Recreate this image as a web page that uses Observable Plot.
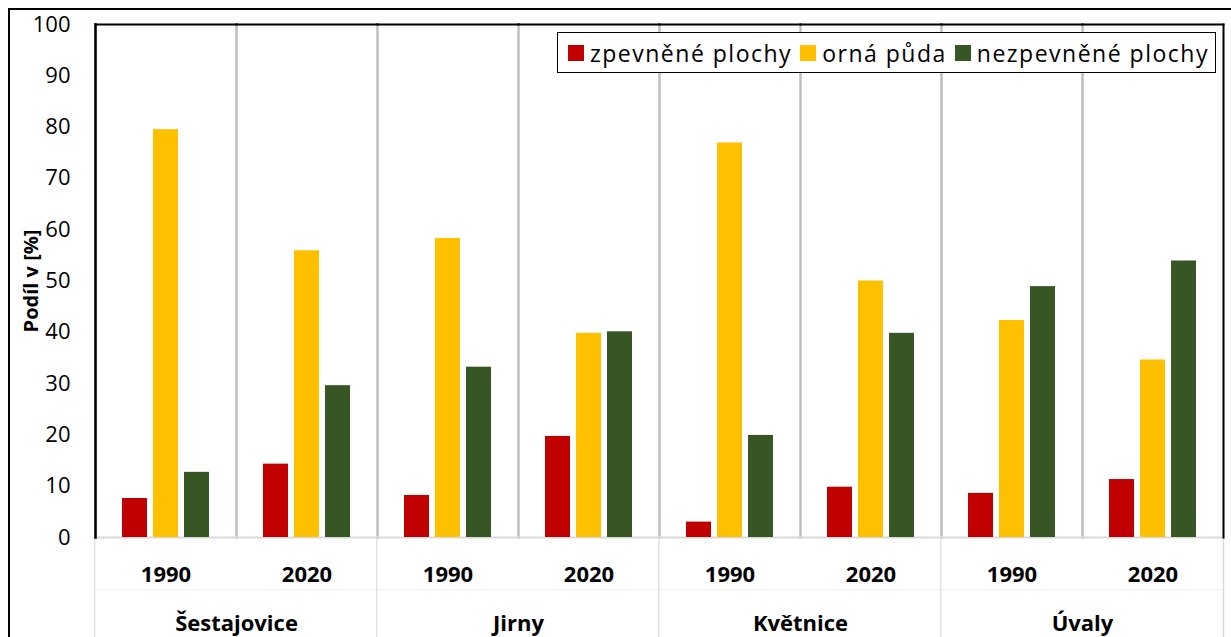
<!DOCTYPE html>
<html>
<head>
<meta charset="utf-8">
<script src="https://cdn.jsdelivr.net/npm/d3@7"></script>
<script src="https://cdn.jsdelivr.net/npm/@observablehq/plot@0.6"></script>
<style>
  html, body { margin: 0; padding: 0; background: #fff; overflow: hidden; }
  #wrap { position: relative; width: 1231px; height: 637px; font-family: 'Open Sans', sans-serif; }
  #outer { position: absolute; left: 8px; top: 8px; width: 1300px; height: 700px; border: 2px solid #000; box-sizing: border-box; pointer-events: none; }
  #legend { position: absolute; left: 557px; top: 32px; width: 659px; height: 41px; border: 1.5px solid #000; box-sizing: border-box; background: #fff;
            display: flex; align-items: center; padding-left: 10px; font-size: 23px; letter-spacing: 1.5px; color: #000; white-space: nowrap; }
  #legend .item { display: flex; align-items: center; margin-right: 8px; }
  #legend .sw { width: 16px; height: 16px; margin-right: 6px; }
</style>
</head>
<body>
<div id="wrap">
  <div id="chart"></div>
  <div id="outer"></div>
  <div id="legend"></div>
</div>
<script>
// ---- data ----
const towns = ["Šestajovice", "Jirny", "Květnice", "Úvaly"];
const years = ["1990", "2020"];
const series = ["zpevněné plochy", "orná půda", "nezpevněné plochy"];
const seriesColors = ["#C00000", "#FFC000", "#375623"];
// order: Šestajovice 1990, 2020, Jirny 1990, 2020, Květnice 1990, 2020, Úvaly 1990, 2020
const zpevnenePlochy   = [7.6, 14.3, 8.2, 19.7, 3.0, 9.8, 8.6, 11.3];
const ornaPuda         = [79.5, 55.9, 58.3, 39.8, 76.9, 50.0, 42.3, 34.6];
const nezpevnenePlochy = [12.7, 29.6, 33.2, 40.1, 19.9, 39.8, 48.9, 53.9];
const yTicks = [0, 10, 20, 30, 40, 50, 60, 70, 80, 90, 100];
const yLabel = "Podíl v [%]";

// ---- build tables ----
const keyOf = (t, y) => `${t}|${y}`;
const cells = towns.flatMap(t => years.map(y => ({town: t, year: y, key: keyOf(t, y)})));
const seriesValues = [zpevnenePlochy, ornaPuda, nezpevnenePlochy];
const rows = cells.flatMap((c, i) => series.map((s, k) => ({...c, series: s, value: seriesValues[k][i]})));

const W = 1231, H = 637, ML = 93, MR = 7, MT = 24, MB = 100;
const facetW = (W - ML - MR) / cells.length;
const plotH = H - MT - MB;

const chart = Plot.plot({
  width: W, height: H,
  marginLeft: ML, marginRight: MR, marginTop: MT, marginBottom: MB,
  style: {fontFamily: "'Open Sans', sans-serif", fontSize: "22px", color: "#000", background: "#fff", overflow: "visible"},
  fx: {domain: cells.map(d => d.key), padding: 0, axis: null},
  x: {domain: series, paddingInner: 0.2, paddingOuter: 0.844, axis: null},
  y: {domain: [0, 100]},
  color: {domain: series, range: seriesColors},
  marks: [
    Plot.frame({anchor: "left", stroke: "#bfbfbf", strokeWidth: 2.5}),
    Plot.frame({anchor: "bottom", stroke: "#d9d9d9", strokeWidth: 2}),
    Plot.frame({anchor: "bottom", stroke: "#f2f2f2", strokeWidth: 1, insetBottom: -52}),
    Plot.rect(towns, {fx: t => keyOf(t, years[0]), fill: "#d9d9d9", insetTop: plotH, insetBottom: -MB, insetLeft: -0.75, insetRight: facetW - 0.75}),
    Plot.frame({anchor: "right", facetAnchor: "right", stroke: "#d9d9d9", strokeWidth: 1.5, insetTop: plotH, insetBottom: -MB}),
    Plot.barY(rows, {fx: "key", x: "series", y: "value", fill: "series"}),
    Plot.frame({anchor: "top", stroke: "#000", strokeWidth: 2}),
    Plot.frame({anchor: "left", facetAnchor: "left", stroke: "#000", strokeWidth: 2.5}),
    Plot.frame({anchor: "right", facetAnchor: "right", stroke: "#000", strokeWidth: 2}),
    Plot.axisY({ticks: yTicks, tickSize: 0, tickPadding: 25, fontSize: 22, label: null}),
    Plot.text([yLabel], {text: d => d, frameAnchor: "left", facetAnchor: "left", rotate: -90, dx: -64,
                         textAnchor: "middle", lineAnchor: "middle", fontSize: 20, fontWeight: "bold"}),
    Plot.text(cells, {fx: "key", text: "year", frameAnchor: "bottom", dy: 37, lineAnchor: "middle", fontSize: 22, fontWeight: "bold"}),
    Plot.text(towns, {fx: t => keyOf(t, years[0]), text: d => d, frameAnchor: "bottom-right", textAnchor: "middle", dy: 86, lineAnchor: "middle", fontSize: 22, fontWeight: "bold"})
  ]
});
document.getElementById("chart").append(chart);

// legend
const legend = d3.select("#legend");
series.forEach((s, i) => {
  const item = legend.append("div").attr("class", "item");
  item.append("div").attr("class", "sw").style("background", seriesColors[i]);
  item.append("span").text(s);
});
</script>
</body>
</html>
